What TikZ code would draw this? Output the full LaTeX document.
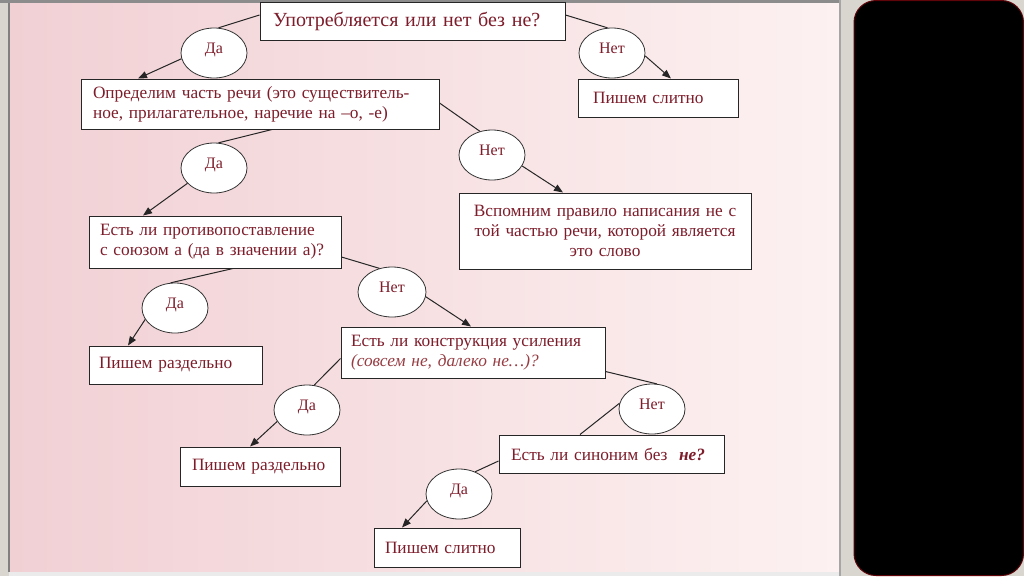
\documentclass[tikz,border=0pt]{standalone}
\usepackage{fontspec}
\setmainfont{Liberation Serif}
\usetikzlibrary{shapes.geometric,arrows.meta,calc}
\definecolor{txt}{RGB}{125,28,42}
\definecolor{itxt}{RGB}{150,60,66}
\definecolor{frame}{RGB}{216,214,206}
\definecolor{pinkL}{RGB}{241,208,212}
\definecolor{pinkR}{RGB}{253,241,241}
\definecolor{blkborder}{RGB}{95,5,10}
\begin{document}
\begin{tikzpicture}[x=1pt,y=-1pt,
  box/.style={draw=black!85,line width=1pt,fill=white,rectangle,
    font=\fontsize{17.3}{20}\selectfont,text=txt,align=left,inner ysep=0pt},
  oval/.style={draw=black!80,line width=0.8pt,fill=white,ellipse,
    minimum width=66pt,minimum height=50pt,inner sep=0pt,
    text height=11pt,text depth=10pt,
    font=\fontsize{16}{18}\selectfont,text=txt},
  link/.style={draw=black!85,line width=1pt},
  arr/.style={link,-{Triangle[length=9pt,width=7pt]}},
]
\useasboundingbox (0,0) rectangle (1024,576);
% background frame
\fill[frame] (0,0) rectangle (1024,576);
\shade[left color=pinkL,right color=pinkR] (9,3) rectangle (839,572);
\fill[black!45] (0,0) rectangle (839,2.5);
\fill[black!50] (8,2.5) rectangle (9.5,572);
\fill[black!35] (839,0) rectangle (841,576);
\fill[black!8] (9,572) rectangle (839,576);
\draw[fill=black,draw=blkborder,line width=1pt,rounded corners=22pt]
  (854,0.5) rectangle (1023.5,575.5);

% boxes
\node[box,font=\fontsize{20}{22}\selectfont,text width=279pt,inner xsep=13pt,minimum height=38pt] (top) at (412.5,21) {\mbox{Употребляется или нет без не?}};
\node[box,text width=130pt,inner xsep=15pt,minimum height=38pt] (slitno1) at (658,98) {\mbox{Пишем слитно}};
\node[box,text width=334pt,inner xsep=12pt,minimum height=50pt] (opr) at (260,104) {\mbox{Определим часть речи (это существитель-}\\\mbox{ное, прилагательное, наречие на –о, -е)}};
\node[box,text width=276pt,inner xsep=8pt,minimum height=76pt,align=center] (vspom) at (605,231) {\mbox{Вспомним правило написания не с}\\\mbox{той частью речи, которой является}\\\mbox{это слово}};
\node[box,text width=230pt,inner xsep=11pt,minimum height=52pt] (est1) at (215,242) {\mbox{Есть ли противопоставление}\\\mbox{с союзом а (да в значении а)?}};
\node[box,text width=153pt,inner xsep=10pt,minimum height=38pt] (razd1) at (175.5,365) {\mbox{Пишем раздельно}};
\node[box,text width=244pt,inner xsep=10pt,minimum height=51pt] (konstr) at (473,352.5) {\mbox{Есть ли конструкция усиления}\\\mbox{\color{itxt}\itshape (совсем не, далеко не…)?}};
\node[box,text width=136pt,inner xsep=12pt,minimum height=39pt] (razd2) at (260,466.5) {\mbox{Пишем раздельно}};
\node[box,text width=201pt,inner xsep=12pt,minimum height=38pt] (sinonim) at (611.5,454) {\mbox{Есть ли синоним без\ \ \textbf{\itshape не?}}};
\node[box,text width=124pt,inner xsep=11pt,minimum height=39pt] (slitno2) at (447,547.5) {\mbox{Пишем слитно}};

% ovals
\node[oval] (da1) at (214,53) {Да};
\node[oval] (net1) at (612,53) {Нет};
\node[oval] (da2) at (214,168) {Да};
\node[oval] (net2) at (492,155) {Нет};
\node[oval] (da3) at (175,308) {Да};
\node[oval,minimum width=68pt] (net3) at (392,292) {Нет};
\node[oval] (da4) at (307,410) {Да};
\node[oval] (net4) at (652,409) {Нет};
\node[oval] (da5) at (459,494) {Да};

% connectors
\draw[link] ($(top.west)+(0,-6)$) -- (da1.80);
\draw[arr] (da1.190) -- ($(opr.north)+(-122,0)$);
\draw[link] ($(top.east)+(0,-6)$) -- (net1.100);
\draw[arr] (net1.-5) -- ($(slitno1.north)+(13,0)$);
\draw[link] ($(opr.south)+(12,0)$) -- (da2.80);
\draw[arr] (da2.210) -- ($(est1.north)+(-72,0)$);
\draw[link] ($(opr.east)+(0,-1)$) -- (net2.117);
\draw[arr] (net2.-20) -- ($(vspom.north)+(-42,0)$);
\draw[link] ($(est1.east)+(0,15)$) -- (net3.118);
\draw[link] ($(est1.south)+(18,0)$) -- (da3.100);
\draw[arr] (da3.201) -- ($(razd1.north)+(-47.5,0)$);
\draw[arr] (net3.-8) -- ($(konstr.north)+(-2,0)$);
\draw[link] ($(konstr.west)+(0,6)$) -- (da4.74);
\draw[arr] (da4.201) -- ($(razd2.north)+(-10,0)$);
\draw[link] ($(konstr.east)+(0,19)$) -- (net4.79);
\draw[link] (net4.170) -- ($(sinonim.north)+(-31.5,0)$);
\draw[link] ($(sinonim.west)+(0,7)$) -- (da5.54);
\draw[arr] (da5.192) -- ($(slitno2.north)+(-45,0)$);
\end{tikzpicture}
\end{document}
